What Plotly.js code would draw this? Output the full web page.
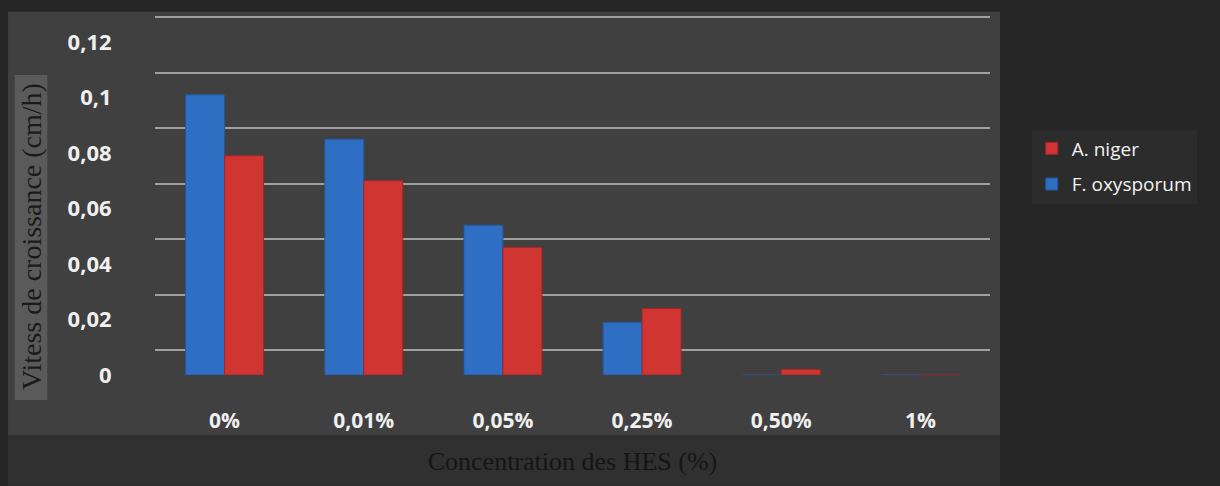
<!DOCTYPE html>
<html>
<head>
<meta charset="utf-8">
<script src="https://cdn.plot.ly/plotly-3.0.1.min.js"></script>
<style>html,body{margin:0;padding:0;background:#262626;}#chart{width:1220px;height:486px;}</style>
</head>
<body>
<div id="chart"></div>
<script>
const categories = ['0%', '0,01%', '0,05%', '0,25%', '0,50%', '1%'];
const fOxysporum = [0.101, 0.085, 0.054, 0.019, 0, 0];
const aNiger = [0.079, 0.070, 0.046, 0.024, 0.002, 0];
const yTickVals = [0, 0.02, 0.04, 0.06, 0.08, 0.1, 0.12];
const yTickText = ['0', '0,02', '0,04', '0,06', '0,08', '0,1', '0,12'];

const traces = [
  {type: 'bar', name: 'F. oxysporum', x: categories, y: fOxysporum, legendgroup: 'f', legendrank: 2,
   marker: {color: '#2f6fc3', line: {color: '#24569a', width: 1}}},
  {type: 'bar', name: 'A. niger', x: categories, y: aNiger, legendgroup: 'a', legendrank: 1,
   marker: {color: '#d13532', line: {color: '#a32624', width: 1}}},
  {type: 'scatter', x: [], y: [], yaxis: 'y2', showlegend: false, hoverinfo: 'skip'}
];

const layout = {
  width: 1220, height: 486,
  margin: {l: 155, r: 230, t: 14, b: 111},
  paper_bgcolor: '#262626',
  plot_bgcolor: 'rgba(0,0,0,0)',
  barmode: 'group', bargap: 0.44, bargroupgap: 0,
  showlegend: true,
  legend: {traceorder: 'grouped', x: 1.05, y: 0.68, xanchor: 'left', yanchor: 'top',
           bgcolor: '#2c2c2c', font: {family: 'Open Sans, sans-serif', size: 19, color: '#f2f2f2'},
           tracegroupgap: 8, itemwidth: 30},
  xaxis: {type: 'category', range: [-0.5, 5.5], showgrid: false, zeroline: false, showline: false,
          ticks: 'outside', ticklen: 27, tickcolor: 'rgba(0,0,0,0)',
          tickfont: {family: 'Open Sans, sans-serif', size: 21, color: '#f0f0f0', weight: 'bold'},
          title: {text: 'Concentration des HES (%)', standoff: 18,
                  font: {family: 'Liberation Serif, serif', size: 26, color: '#151515'}}},
  yaxis: {range: [0, 0.1301], tickvals: yTickVals, ticktext: yTickText,
          showgrid: false, zeroline: false, showline: false,
          ticks: 'outside', ticklen: 38, tickcolor: 'rgba(0,0,0,0)',
          tickfont: {family: 'Open Sans, sans-serif', size: 22, color: '#f0f0f0', weight: 'bold'}},
  yaxis2: {overlaying: 'y', side: 'left', range: [-0.009, 0.1211], tickvals: yTickVals,
           showticklabels: false, showgrid: true, gridcolor: '#a0a0a0', gridwidth: 2,
           zeroline: false, showline: false, ticks: ''},
  annotations: [
    {text: 'Vitess de croissance (cm/h)', xref: 'paper', yref: 'paper', x: -0.1485, y: 0.382,
     xanchor: 'center', yanchor: 'middle', textangle: -90, showarrow: false,
     font: {family: 'Liberation Serif, serif', size: 28, color: '#1a1a1a'}}
  ],
  shapes: [
    {type: 'rect', xref: 'paper', yref: 'paper', x0: -0.176, x1: 1.012, y0: -0.166, y1: 1.006,
     fillcolor: '#404040', line: {width: 0}, layer: 'below'},
    {type: 'rect', xref: 'paper', yref: 'paper', x0: -0.168, x1: -0.129, y0: -0.069, y1: 0.831,
     fillcolor: '#5a5a5a', line: {width: 0}, layer: 'below'},
    {type: 'rect', xref: 'paper', yref: 'paper', x0: -0.176, x1: 1.012, y0: -0.307, y1: -0.166,
     fillcolor: '#303030', line: {width: 0}, layer: 'below'}
  ]
};

Plotly.newPlot('chart', traces, layout, {displayModeBar: false});
</script>
</body>
</html>
